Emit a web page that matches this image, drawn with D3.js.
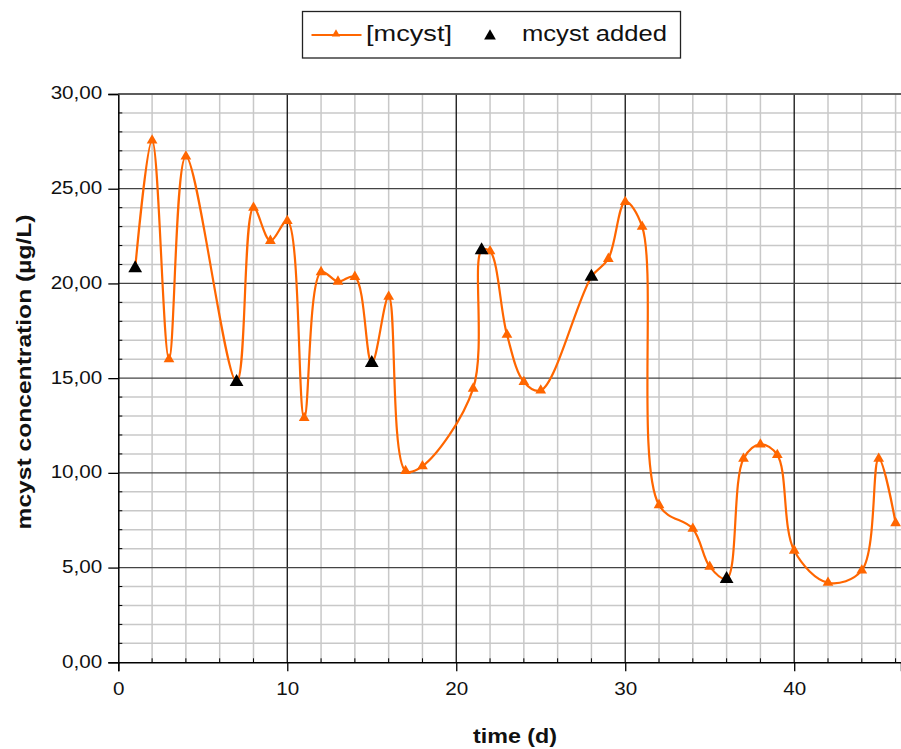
<!DOCTYPE html>
<html><head><meta charset="utf-8">
<script src="https://cdn.jsdelivr.net/npm/d3@7"></script>
<style>body{margin:0;background:#fff}svg{display:block}text{font-family:"Liberation Sans",Arial,sans-serif}</style>
</head><body>
<svg id="c" width="901" height="749"></svg>
<script>
// ---- data ----
const days = [1,2,3,4,7,8,9,10,11,12,13,14,15,16,17,18,21,21.5,22,23,24,25,28,29,30,31,32,34,35,36,37,38,39,40,42,44,45,46];
const conc = [20.8,27.55,16.0,26.7,14.8,24.0,22.25,23.3,12.9,20.6,20.1,20.35,15.8,19.3,10.1,10.35,14.45,21.75,21.7,17.3,14.8,14.35,20.35,21.3,24.3,23.0,8.3,7.05,5.05,4.4,10.75,11.5,10.95,5.9,4.2,4.85,10.75,7.35];
const addedDays = [1,7,15,21.5,28,36];
const addedConc = [20.8,14.8,15.8,21.75,20.35,4.4];
const xTicks = [0,10,20,30,40];
const yTicks = [0,5,10,15,20,25,30];
const seriesNames = ["[mcyst]","mcyst added"];
const xTitle = "time (d)";
const yTitle = "mcyst concentration (µg/L)";

const svg = d3.select("#c");
const L = 118.3, R = 901, T = 94, B = 662.3;
const x = d3.scaleLinear().domain([0, 46.32]).range([L, R]);
const y = d3.scaleLinear().domain([0, 30]).range([B, T]);
const orange = "#ff6600";
const locale = d3.formatLocale({decimal: ",", thousands: ".", grouping: [3], currency: ["", ""]});
const fmt = locale.format(".2f");

// stretch text horizontally (reference text is wider than the font)
function stretch(sel, k) {
  sel.each(function() {
    const w = this.getComputedTextLength();
    d3.select(this).attr("textLength", w * k).attr("lengthAdjust", "spacingAndGlyphs");
  });
}

// minor grid
const g = svg.append("g");
g.selectAll(".mx").data(d3.range(2, 47, 2).filter(d => d % 10 !== 0)).join("line")
  .attr("x1", d => x(d)).attr("x2", d => x(d)).attr("y1", T).attr("y2", B)
  .attr("stroke", "#c8c8c8").attr("stroke-width", 1.5);
g.selectAll(".my").data(d3.range(1, 30).filter(d => d % 5 !== 0)).join("line")
  .attr("x1", L).attr("x2", R).attr("y1", d => y(d)).attr("y2", d => y(d))
  .attr("stroke", "#c8c8c8").attr("stroke-width", 1.5);
// major grid
g.selectAll(".Mx").data(xTicks.filter(d => d > 0)).join("line")
  .attr("x1", d => x(d)).attr("x2", d => x(d)).attr("y1", T).attr("y2", B)
  .attr("stroke", "#111").attr("stroke-width", 1.3);
g.selectAll(".My").data(yTicks.filter(d => d > 0)).join("line")
  .attr("x1", L).attr("x2", R).attr("y1", d => y(d)).attr("y2", d => y(d))
  .attr("stroke", "#444").attr("stroke-width", 1.3);

// axes
const xAxis = svg.append("g").attr("transform", `translate(0,${B})`)
  .call(d3.axisBottom(x).tickValues(xTicks).tickSize(9).tickPadding(11).tickFormat(d3.format("d")));
const yAxis = svg.append("g").attr("transform", `translate(${L},0)`)
  .call(d3.axisLeft(y).tickValues(yTicks).tickSize(10).tickPadding(6).tickFormat(fmt));
[xAxis, yAxis].forEach(a => {
  a.select(".domain").attr("stroke", "#000").attr("stroke-width", 1.5);
  a.selectAll(".tick line").attr("stroke", "#000").attr("stroke-width", 1.3);
  a.selectAll("text").attr("fill", "#111").style("font-size", "17.5px");
  stretch(a.selectAll("text"), 1.18);
});
yAxis.selectAll("text").attr("dy", "0.28em");
// minor inner ticks
svg.append("g").selectAll("line").data(d3.range(2, 47, 2).filter(d => d % 10 !== 0)).join("line")
  .attr("x1", d => x(d)).attr("x2", d => x(d)).attr("y1", B).attr("y2", B - 4)
  .attr("stroke", "#000").attr("stroke-width", 1);
svg.append("g").selectAll("line").data(d3.range(1, 30).filter(d => d % 5 !== 0)).join("line")
  .attr("x1", L).attr("x2", L + 4).attr("y1", d => y(d)).attr("y2", d => y(d))
  .attr("stroke", "#000").attr("stroke-width", 1);
// top border
svg.append("line").attr("x1", L).attr("x2", R).attr("y1", T).attr("y2", T)
  .attr("stroke", "#555").attr("stroke-width", 1.5);

// series line
const pts = days.map((d, i) => [d, conc[i]]);
const line = d3.line().x(d => x(d[0])).y(d => y(d[1])).curve(d3.curveCatmullRom.alpha(0.5));
svg.append("path").attr("d", line(pts)).attr("fill", "none").attr("stroke", orange).attr("stroke-width", 2.2);
const triO = d3.symbol().type(d3.symbolTriangle).size(50);
const triB = d3.symbol().type(d3.symbolTriangle).size(82);
svg.append("g").selectAll("path").data(pts).join("path")
  .attr("d", triO).attr("fill", orange)
  .attr("transform", d => `translate(${x(d[0])},${y(d[1])})`);
svg.append("g").selectAll("path").data(addedDays.map((d, i) => [d, addedConc[i]])).join("path")
  .attr("d", triB).attr("fill", "#000")
  .attr("transform", d => `translate(${x(d[0])},${y(d[1])})`);

// titles
svg.append("text").attr("x", 515).attr("y", 742.5).attr("text-anchor", "middle")
  .style("font-size", "21px").style("font-weight", "bold").attr("fill", "#111")
  .attr("textLength", 84).attr("lengthAdjust", "spacingAndGlyphs").text(xTitle);
svg.append("text").attr("transform", "translate(30.5,372) rotate(-90)").attr("text-anchor", "middle")
  .style("font-size", "21px").style("font-weight", "bold").attr("fill", "#111")
  .attr("textLength", 315).attr("lengthAdjust", "spacingAndGlyphs").text(yTitle);

// legend
const lg = svg.append("g");
lg.append("rect").attr("x", 302.5).attr("y", 11.5).attr("width", 378).attr("height", 46.5)
  .attr("fill", "#fff").attr("stroke", "#222").attr("stroke-width", 1.3);
lg.append("line").attr("x1", 311.5).attr("x2", 361.5).attr("y1", 35).attr("y2", 35)
  .attr("stroke", orange).attr("stroke-width", 2);
lg.append("path").attr("d", d3.symbol().type(d3.symbolTriangle).size(30)).attr("fill", orange)
  .attr("transform", "translate(336,34)");
lg.append("text").attr("x", 366).attr("y", 40.5).style("font-size", "21.5px").attr("fill", "#111")
  .attr("textLength", 86).attr("lengthAdjust", "spacingAndGlyphs").text(seriesNames[0]);
lg.append("path").attr("d", d3.symbol().type(d3.symbolTriangle).size(60)).attr("fill", "#000")
  .attr("transform", "translate(490,36)");
lg.append("text").attr("x", 522).attr("y", 40.5).style("font-size", "21.5px").attr("fill", "#111")
  .attr("textLength", 145).attr("lengthAdjust", "spacingAndGlyphs").text(seriesNames[1]);
</script>
</body></html>
